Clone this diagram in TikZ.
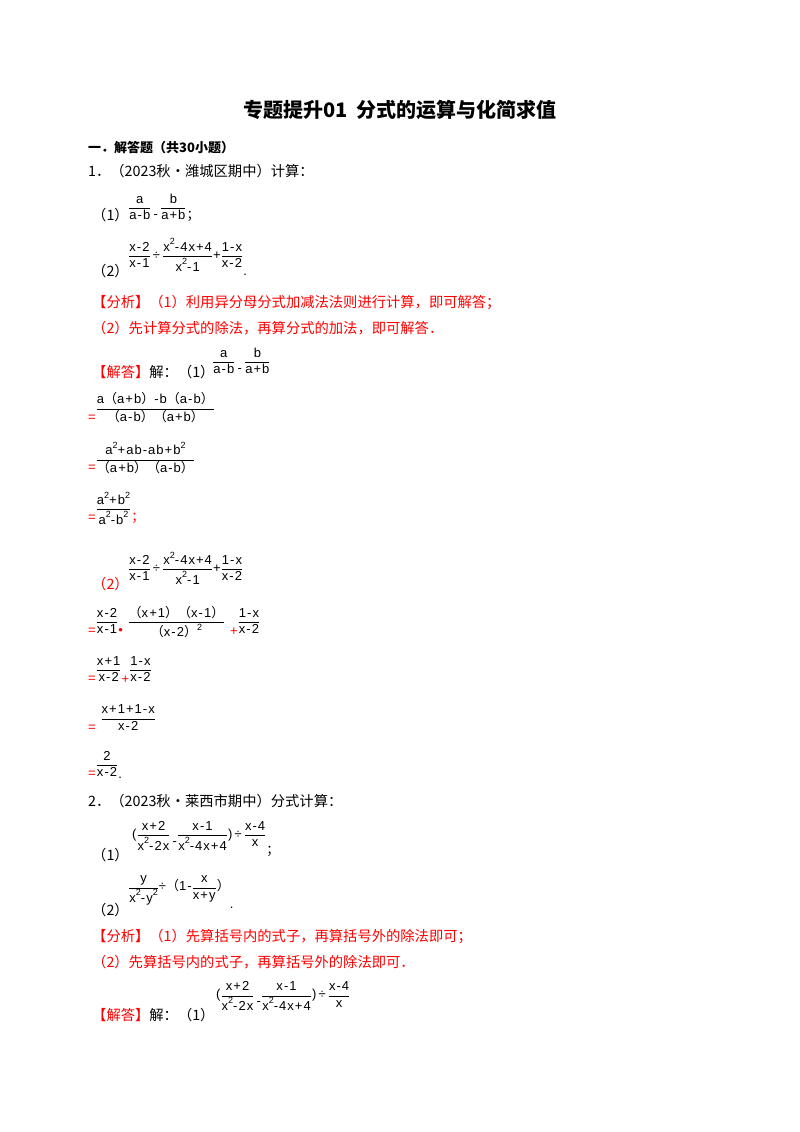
\documentclass[tikz,border=0pt]{standalone}
\usepackage{fontspec}
\usepackage{amsmath}
\setmainfont{Liberation Serif}
\newfontfamily\cjk{Noto Sans CJK SC}
\newfontfamily\ff[LetterSpace=8]{Liberation Sans}
\definecolor{ared}{RGB}{255,0,0}
\newcommand\fs{\ff\fontsize{13}{13}\selectfont}
\newcommand\Fr[2]{\ensuremath{\dfrac{\hbox{\fs #1}}{\hbox{\fs #2}}}}
\newcommand\sq{\raisebox{0.5em}{\fontsize{9}{9}\selectfont 2}}
\newcommand\op[1]{\hbox{\fs #1}}
\newcommand\lp{{\cjk （}}
\newcommand\rp{{\cjk ）}}
\tikzset{
  txt/.style={anchor=base west,inner sep=0pt,font=\cjk\fontsize{14.3}{14}\selectfont},
  red/.style={txt,text=ared},
  fm/.style={anchor=west,inner sep=0pt,font=\fs},
}
\begin{document}
\begin{tikzpicture}[x=1pt,y=-1pt]
\useasboundingbox (0,0) rectangle (800,1132);
\node[anchor=base,inner sep=0pt,font=\cjk\bfseries\fontsize{20}{20}\selectfont] (title) at (400,117) {专题提升01\ \ 分式的运算与化简求值};
\node[txt,font=\cjk\bfseries\fontsize{13}{13}\selectfont] (sec) at (88,152) {一．解答题（共30小题）};
\node[txt] (q1) at (88,176) {1．（2023秋•潍城区期中）计算：};
\node[txt] (q1a) at (92,220) {（1）};
\node[fm] (f1) at (128,208) {\Fr{a}{a-b}\,\raisebox{-1ex}{-}\,\Fr{b}{a+b}\raisebox{-1.2ex}{\cjk ；}};
\node[txt] (q1b) at (92,276) {（2）};
\node[fm] (f2) at (128,257) {\Fr{x-2}{x-1}\,\op{÷}\,\Fr{x\sq-4x+4}{x\sq-1}\op{+}\Fr{1-x}{x-2}\raisebox{-2.3ex}{.}};
\node[red] (an1) at (92,307) {【分析】（1）利用异分母分式加减法法则进行计算，即可解答；};
\node[red] (an2) at (92,333) {（2）先计算分式的除法，再算分式的加法，即可解答．};
\node[red] (so1) at (92,377) {【解答】\textcolor{black}{解：（1）}};
\node[fm] (s1) at (212,361) {\Fr{a}{a-b}\,\raisebox{-1ex}{-}\,\Fr{b}{a+b}};
\node[fm] (s2) at (88,408) {\raisebox{-1.3ex}{\textcolor{ared}{=}}\Fr{a\lp a+b\rp -b\lp a-b\rp}{\lp a-b\rp\lp a+b\rp}};
\node[fm] (s3) at (88,458) {\raisebox{-1.3ex}{\textcolor{ared}{=}}\Fr{a\sq+ab-ab+b\sq}{\lp a+b\rp\lp a-b\rp}};
\node[fm] (s4) at (88,508) {\raisebox{-1.3ex}{\textcolor{ared}{=}}\Fr{a\sq+b\sq}{a\sq-b\sq}\raisebox{-1.3ex}{\textcolor{ared}{\cjk ；}}};
\node[red] (q2s) at (92,589) {（2）};
\node[fm] (s5) at (128,568) {\Fr{x-2}{x-1}\,\op{÷}\,\Fr{x\sq-4x+4}{x\sq-1}\op{+}\Fr{1-x}{x-2}};
\node[fm] (s6) at (88,622) {\raisebox{-1.3ex}{\textcolor{ared}{=}}\Fr{x-2}{x-1}\raisebox{-1.3ex}{\textcolor{ared}{•}}\ \Fr{\lp x+1\rp\lp x-1\rp}{\lp x-2\rp\sq}\ \raisebox{-1.5ex}{\textcolor{ared}{+}}\Fr{1-x}{x-2}};
\node[fm] (s7) at (88,670) {\raisebox{-1.3ex}{\textcolor{ared}{=}}\Fr{x+1}{x-2}\raisebox{-1.5ex}{\textcolor{ared}{+}}\Fr{1-x}{x-2}};
\node[fm] (s8) at (88,718) {\raisebox{-1.3ex}{\textcolor{ared}{=}}\ \Fr{x+1+1-x}{x-2}};
\node[fm] (s9) at (88,765) {\raisebox{-1.3ex}{\textcolor{ared}{=}}\Fr{\ 2\ }{x-2}\raisebox{-1.5ex}{.}};
\node[txt] (q2) at (88,806) {2．（2023秋•莱西市期中）分式计算：};
\node[txt] (q2a) at (92,860) {（1）};
\node[fm] (f3) at (132,839) {(\Fr{x+2}{x\sq-2x}\,\raisebox{-1ex}{-}\Fr{x-1}{x\sq-4x+4})\,\op{÷}\,\Fr{x-4}{x}\raisebox{-2.3ex}{\cjk ；}};
\node[txt] (q2b) at (92,915) {（2）};
\node[fm] (f4) at (128,892) {\Fr{y}{x\sq-y\sq}\op{÷}\lp\op{1-}\Fr{x}{x+y}\rp\raisebox{-2.5ex}{.}};
\node[red] (an3) at (92,941) {【分析】（1）先算括号内的式子，再算括号外的除法即可；};
\node[red] (an4) at (92,967) {（2）先算括号内的式子，再算括号外的除法即可．};
\node[red] (so2) at (92,1020) {【解答】\textcolor{black}{解：（1）}};
\node[fm] (s10) at (216,996) {(\Fr{x+2}{x\sq-2x}\,\raisebox{-1ex}{-}\Fr{x-1}{x\sq-4x+4})\,\op{÷}\,\Fr{x-4}{x}};
\end{tikzpicture}
\end{document}
